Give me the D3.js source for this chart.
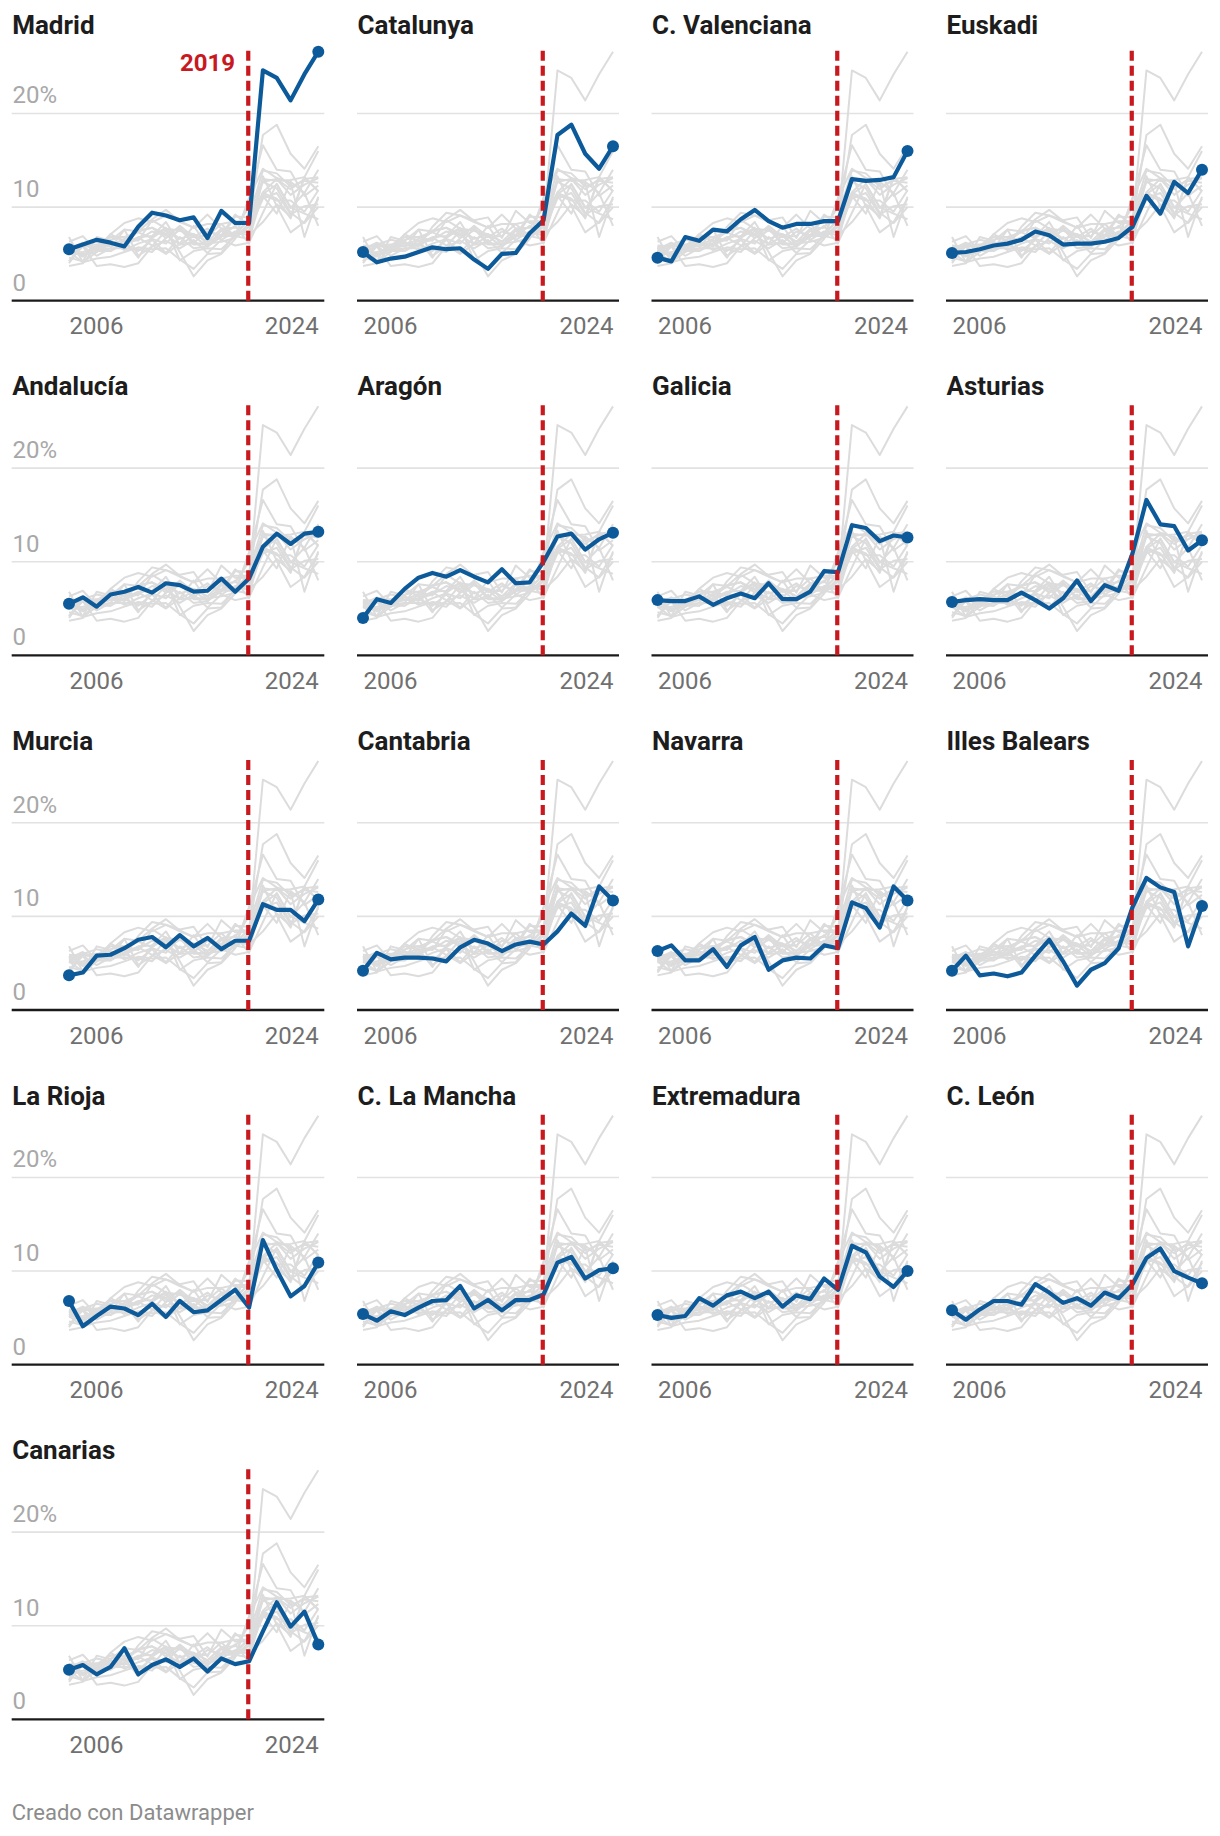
<!DOCTYPE html>
<html>
<head>
<meta charset="utf-8">
<script src="https://cdn.jsdelivr.net/npm/d3@7"></script>
<style>
  body { margin: 0; background: #fff; }
  svg { display: block; font-family: Roboto, "Noto Sans", sans-serif; }
</style>
</head>
<body>
<svg id="chart" width="1220" height="1836"></svg>
<script>
// ---------- DATA ----------
const years = [2006, 2007, 2008, 2009, 2010, 2011, 2012, 2013, 2014, 2015, 2016, 2017, 2018, 2019, 2020, 2021, 2022, 2023, 2024];
const regions = ["Madrid", "Catalunya", "C. Valenciana", "Euskadi", "Andalucía", "Aragón", "Galicia", "Asturias",
                 "Murcia", "Cantabria", "Navarra", "Illes Balears", "La Rioja", "C. La Mancha", "Extremadura", "C. León", "Canarias"];

const madrid      = [5.5, 6.0, 6.5, 6.2, 5.8, 7.9, 9.4, 9.1, 8.6, 8.9, 6.7, 9.6, 8.3, 8.3, 24.6, 23.8, 21.4, 24.2, 26.6];
const catalunya   = [5.2, 4.1, 4.5, 4.7, 5.2, 5.7, 5.5, 5.6, 4.4, 3.4, 5.0, 5.1, 7.2, 8.6, 17.7, 18.8, 15.7, 14.1, 16.5];
const valenciana  = [4.6, 4.2, 6.8, 6.4, 7.6, 7.4, 8.7, 9.7, 8.5, 7.8, 8.2, 8.2, 8.5, 8.5, 13.0, 12.8, 12.9, 13.2, 16.0];
const euskadi     = [5.1, 5.2, 5.5, 5.9, 6.1, 6.5, 7.4, 7.0, 6.0, 6.1, 6.1, 6.3, 6.7, 7.9, 11.2, 9.3, 12.7, 11.5, 14.0];
const andalucia   = [5.5, 6.2, 5.2, 6.5, 6.8, 7.3, 6.7, 7.7, 7.5, 6.8, 6.9, 8.2, 6.8, 8.2, 11.6, 13.0, 11.9, 13.0, 13.2];
const aragon      = [4.0, 6.0, 5.6, 7.1, 8.3, 8.8, 8.4, 9.1, 8.4, 7.8, 9.2, 7.7, 7.8, 10.0, 12.7, 13.0, 11.3, 12.4, 13.1];
const galicia     = [5.9, 5.8, 5.8, 6.3, 5.4, 6.1, 6.6, 6.1, 7.7, 6.0, 6.0, 6.8, 9.0, 8.9, 13.9, 13.6, 12.2, 12.8, 12.6];
const asturias    = [5.7, 5.9, 6.0, 5.9, 5.9, 6.7, 5.9, 5.0, 6.1, 8.0, 5.8, 7.5, 6.9, 10.9, 16.6, 14.0, 13.8, 11.2, 12.3];
const murcia      = [3.7, 4.0, 5.8, 5.9, 6.6, 7.5, 7.8, 6.7, 8.0, 6.8, 7.7, 6.5, 7.4, 7.4, 11.3, 10.7, 10.7, 9.5, 11.8];
const cantabria   = [4.2, 6.1, 5.4, 5.6, 5.6, 5.5, 5.2, 6.7, 7.5, 7.1, 6.3, 7.0, 7.3, 7.0, 8.4, 10.3, 9.0, 13.2, 11.7];
const navarra     = [6.3, 6.9, 5.3, 5.3, 6.5, 4.6, 6.9, 7.8, 4.3, 5.3, 5.6, 5.5, 6.9, 6.6, 11.5, 10.9, 8.8, 13.2, 11.7];
const baleares    = [4.2, 5.8, 3.7, 3.9, 3.6, 4.0, 5.8, 7.5, 5.2, 2.6, 4.3, 5.0, 6.6, 11.0, 14.1, 13.1, 12.6, 6.8, 11.1];
const larioja     = [6.8, 4.1, 5.2, 6.2, 6.0, 5.3, 6.5, 5.1, 6.8, 5.6, 5.8, 6.9, 8.0, 6.1, 13.3, 10.1, 7.3, 8.4, 10.9];
const lamancha    = [5.4, 4.7, 5.7, 5.3, 6.1, 6.8, 6.9, 8.4, 6.0, 6.9, 5.8, 6.9, 6.9, 7.5, 10.9, 11.5, 9.2, 10.1, 10.3];
const extremadura = [5.3, 5.0, 5.2, 7.1, 6.3, 7.4, 7.8, 7.1, 7.8, 6.2, 7.4, 7.0, 9.2, 8.0, 12.7, 12.0, 9.4, 8.3, 10.0];
const leon        = [5.8, 4.8, 5.9, 6.8, 6.8, 6.4, 8.6, 7.7, 6.6, 7.1, 6.3, 7.7, 7.1, 8.6, 11.4, 12.4, 10.0, 9.3, 8.7];
const canarias    = [5.3, 5.8, 4.8, 5.6, 7.6, 4.8, 5.8, 6.4, 5.6, 6.5, 5.1, 6.5, 5.9, 6.2, 9.4, 12.5, 9.9, 11.5, 8.0];

const seriesValues = [madrid, catalunya, valenciana, euskadi, andalucia, aragon, galicia, asturias,
                      murcia, cantabria, navarra, baleares, larioja, lamancha, extremadura, leon, canarias];

const xTickValues = [2006, 2024];
const yTickValues = [0, 10, 20];
const yTickLabels = ["0", "10", "20%"];
const markerYear = 2019;
const markerLabel = "2019";
const footerText = "Creado con Datawrapper";

// ---------- STYLE / LAYOUT ----------
const C = {
  blue: "#0c5a9a",
  gray: "#dcdcdc",
  grid: "#e2e2e2",
  red: "#c8191f",
  axis: "#1a1a1a",
  title: "#1d1d1d",
  xLabel: "#707070",
  yLabel: "#a8a8a8",
  footer: "#8c8c8c"
};
const rowY0 = 300.7, rowPitch = 354.65;
const plotH = 249, yMax = 26.6;

const svg = d3.select("#chart");
const lineData = seriesValues.map(vals => years.map((yr, i) => ({ year: yr, value: vals[i] })));

regions.forEach((name, idx) => {
  const c = idx % 4, r = Math.floor(idx / 4);
  const axisY = rowY0 + r * rowPitch;
  const ax0 = c === 0 ? 11.7 : 357 + (c - 1) * 294.5;
  const ax1 = c === 0 ? 324.3 : ax0 + 262;
  const xr0 = c === 0 ? 69 : ax0 + 6;
  const xr1 = ax1 - 6;

  const x = d3.scaleLinear().domain([years[0], years[years.length - 1]]).range([xr0, xr1]);
  const y = d3.scaleLinear().domain([0, yMax]).range([axisY, axisY - plotH]);

  const g = svg.append("g").attr("class", "panel");

  // gridlines
  g.selectAll("line.grid").data(yTickValues.filter(v => v > 0)).join("line")
    .attr("class", "grid")
    .attr("x1", ax0).attr("x2", ax1)
    .attr("y1", d => y(d)).attr("y2", d => y(d))
    .attr("stroke", C.grid).attr("stroke-width", 1.6);

  // y labels (first column only)
  if (c === 0) {
    g.selectAll("text.ylab").data(yTickValues).join("text")
      .attr("class", "ylab")
      .attr("x", 12.5)
      .attr("y", d => y(d) - 10)
      .attr("fill", C.yLabel)
      .attr("font-size", 24)
      .text((d, i) => yTickLabels[i]);
  }

  // title
  g.append("text")
    .attr("x", ax0 + 0.5)
    .attr("y", r === 0 ? axisY - 266.4 : axisY - 260)
    .attr("fill", C.title)
    .attr("font-size", 26)
    .attr("font-weight", 700)
    .text(name);

  const line = d3.line().x(d => x(d.year)).y(d => y(d.value));

  // gray context lines
  g.selectAll("path.ctx").data(lineData).join("path")
    .attr("class", "ctx")
    .attr("d", line)
    .attr("fill", "none")
    .attr("stroke", C.gray)
    .attr("stroke-width", 2)
    .attr("stroke-linejoin", "round");

  // baseline axis
  g.append("line")
    .attr("x1", ax0).attr("x2", ax1)
    .attr("y1", axisY).attr("y2", axisY)
    .attr("stroke", C.axis).attr("stroke-width", 2.3);

  // x axis labels via d3 axis
  const xAxis = d3.axisBottom(x).tickValues(xTickValues).tickSize(0).tickFormat(d3.format("d"));
  const xg = g.append("g").attr("transform", `translate(0,${axisY})`).call(xAxis);
  xg.select(".domain").remove();
  xg.selectAll("text")
    .attr("y", 33.8).attr("dy", null)
    .attr("font-size", 24)
    .attr("font-family", "Roboto, 'Noto Sans', sans-serif")
    .attr("fill", C.xLabel)
    .attr("text-anchor", (d, i) => i === 0 ? "start" : "end");

  // highlighted line
  const hl = lineData[idx];
  g.append("path")
    .attr("d", line(hl))
    .attr("fill", "none")
    .attr("stroke", C.blue)
    .attr("stroke-width", 4.2)
    .attr("stroke-linejoin", "round");

  // dashed marker
  g.append("line")
    .attr("x1", x(markerYear) - 0.8).attr("x2", x(markerYear) - 0.8)
    .attr("y1", axisY).attr("y2", axisY - 254)
    .attr("stroke", C.red).attr("stroke-width", 4.2)
    .attr("stroke-dasharray", "10,5");

  // end dots
  g.selectAll("circle.dot").data([hl[0], hl[hl.length - 1]]).join("circle")
    .attr("class", "dot")
    .attr("cx", d => x(d.year)).attr("cy", d => y(d.value))
    .attr("r", 6)
    .attr("fill", C.blue);

  if (idx === 0) {
    g.append("text")
      .attr("x", x(markerYear) - 14)
      .attr("y", axisY - 229.7)
      .attr("text-anchor", "end")
      .attr("fill", C.red)
      .attr("font-size", 24)
      .attr("font-weight", 700)
      .text(markerLabel);
  }
});

svg.append("text")
  .attr("x", 11.7).attr("y", 1820)
  .attr("fill", C.footer)
  .attr("font-size", 22)
  .text(footerText);
</script>
</body>
</html>
